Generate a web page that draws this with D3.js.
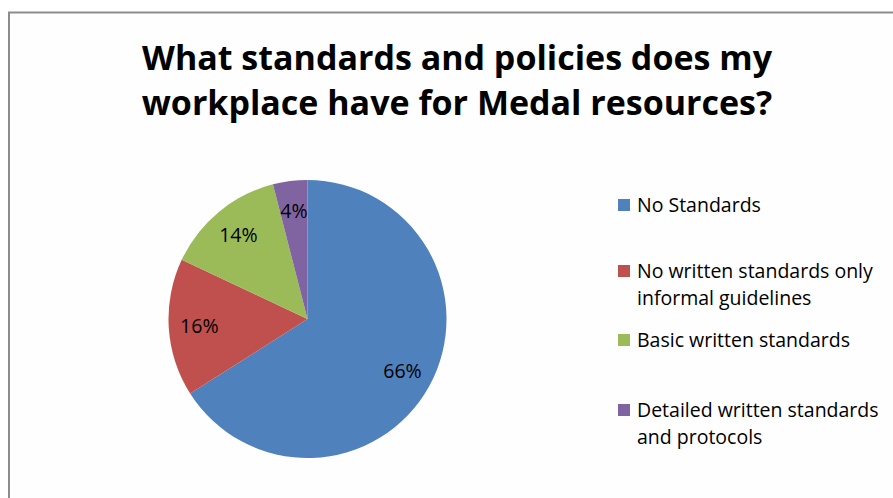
<!DOCTYPE html>
<html><head><meta charset="utf-8">
<script src="https://cdn.jsdelivr.net/npm/d3@7"></script>
<style>body{margin:0;background:#fff;}svg{display:block;}</style>
</head><body>
<svg id="c" width="893" height="498"></svg>
<script>
const categories = ["No Standards", "No written standards only informal guidelines", "Basic written standards", "Detailed written standards and protocols"];
const values = [66, 16, 14, 4];
const colors = ["#4F81BD", "#C0504D", "#9BBB59", "#8064A2"];
const legendLines = [["No Standards"], ["No written standards only", "informal guidelines"], ["Basic written standards"], ["Detailed written standards", "and protocols"]];
const titleLines = ["What standards and policies does my", "workplace have for Medal resources?"];

const svg = d3.select("#c");
const font = "'Open Sans', sans-serif";
svg.append("rect").attr("x",0).attr("y",0).attr("width",893).attr("height",498).attr("fill","#fff");
svg.append("rect").attr("x",9).attr("y",12.5).attr("width",900).attr("height",500)
  .attr("fill","#fefefe").attr("stroke","#8c8c8c").attr("stroke-width",2);

svg.append("g").selectAll("text").data(titleLines).join("text")
  .attr("x",457).attr("y",(d,i)=>70+i*45)
  .attr("text-anchor","middle").attr("font-family",font).attr("font-weight","bold")
  .attr("font-size",34).attr("fill","#000").text(d=>d);

const cx=307.5, cy=319, r=139;
const pie = d3.pie().sort(null).value(d=>d);
const arcs = pie(values);
const arc = d3.arc().innerRadius(0).outerRadius(r);
const labelArc = d3.arc().innerRadius(r*0.58).outerRadius(r*0.98);
const g = svg.append("g").attr("transform",`translate(${cx},${cy})`);
g.selectAll("path").data(arcs).join("path").attr("d",arc).attr("fill",(d,i)=>colors[i]);

const total = d3.sum(values);
g.selectAll("text").data(arcs).join("text")
  .attr("x",d=>labelArc.centroid(d)[0])
  .attr("y",d=>labelArc.centroid(d)[1])
  .attr("dy","0.35em").attr("text-anchor","middle")
  .attr("font-family",font).attr("font-size",19.5).attr("fill","#000")
  .text(d=>Math.round(d.data/total*100)+"%");

const leg = svg.append("g");
const ly = [205, 271, 340, 410];
categories.forEach((c,i)=>{
  leg.append("rect").attr("x",618).attr("y",ly[i]-6).attr("width",12).attr("height",12).attr("fill",colors[i]);
  legendLines[i].forEach((t,j)=>{
    leg.append("text").attr("x",637).attr("y",ly[i]+j*27).attr("dy","0.35em")
      .attr("font-family",font).attr("font-size",19.5).attr("fill","#000").text(t);
  });
});
</script>
</body></html>
